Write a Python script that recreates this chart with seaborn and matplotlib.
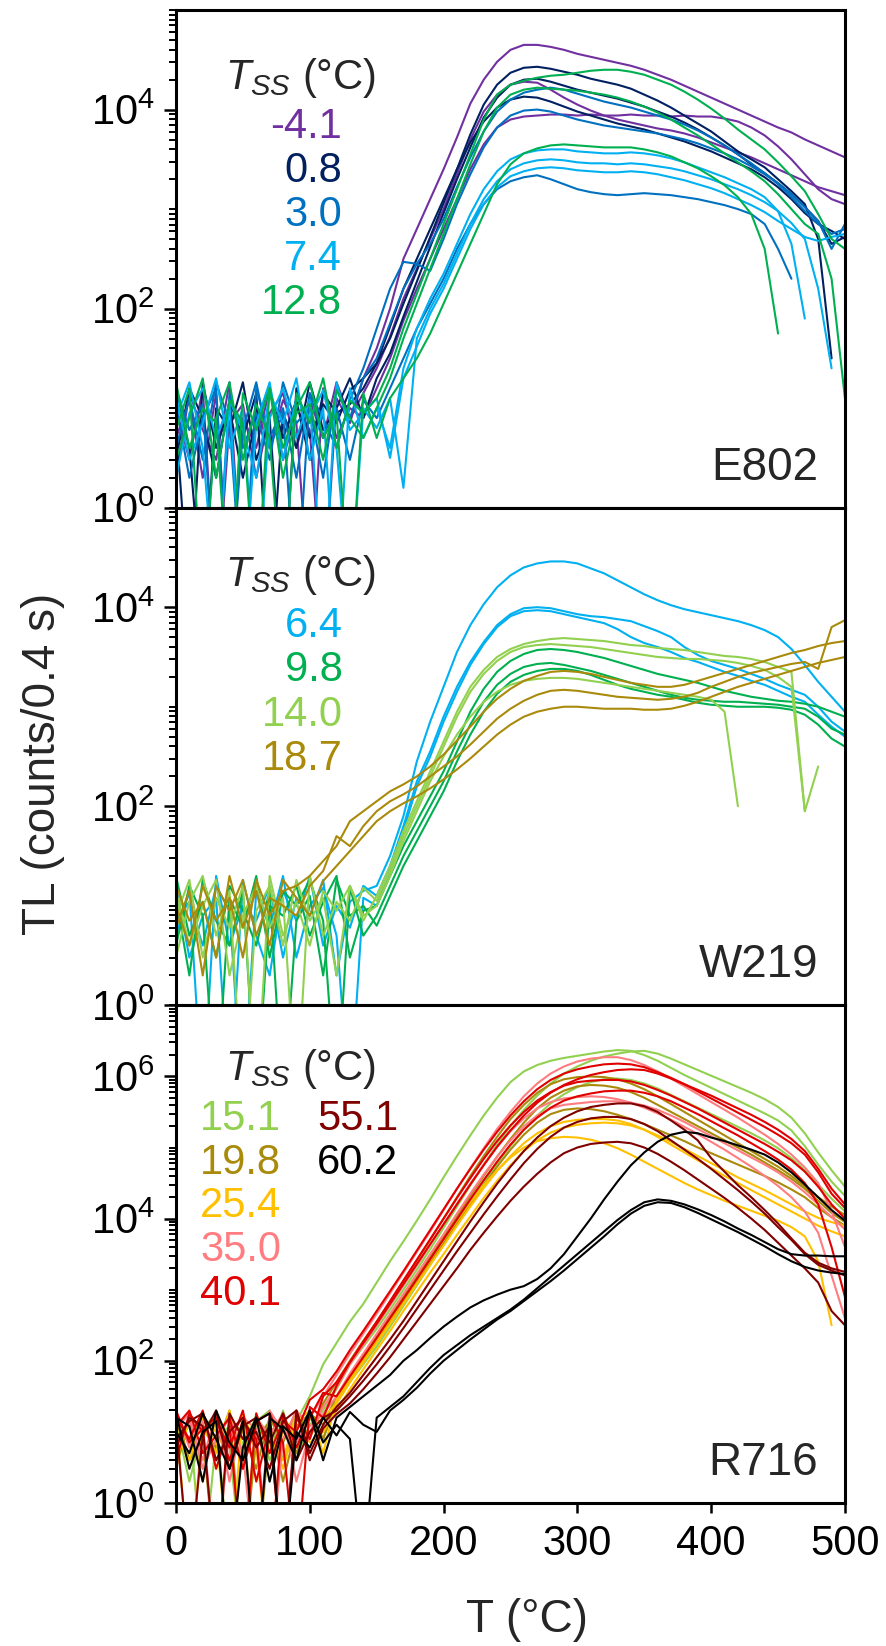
import numpy as np
import pandas as pd
import matplotlib
matplotlib.use("Agg")
import matplotlib.pyplot as plt
import seaborn as sns
from matplotlib.ticker import FixedLocator, LogLocator, NullFormatter

# temperature grid of the glow curves (deg C)
temps = list(range(0, 501, 10))
N = None   # end of the recorded curve

# ---------------- E802 : log10(TL) per run, grouped by T_SS ----------------
e802_labels = ["-4.1", "0.8", "3.0", "7.4", "12.8"]
e802_colors = ["#7030A0", "#002060", "#0070C0", "#00B0F0", "#00B050"]

e802_m41 = [
    [0.7, 1.08, 0.3, 1.15, -1, 0.9, 0.6, 1.2, 0.48, 1.0,
     0.78, -1, 1.1, 0.85, 1.3, 1.6, 2.0, 2.5, 2.8, 3.1,
     3.4, 3.72, 4.06, 4.3, 4.48, 4.6, 4.65, 4.65, 4.63, 4.6,
     4.56, 4.53, 4.5, 4.47, 4.44, 4.4, 4.35, 4.3, 4.24, 4.18,
     4.12, 4.06, 4.0, 3.94, 3.88, 3.82, 3.77, 3.7, 3.64, 3.58, 3.52],
    [1.0, 0.48, 1.2, -1, 0.85, 1.04, 0.3, 0.95, 1.15, 0.6,
     1.08, 0.7, 1.26, 0.9, 1.15, 1.4, 1.72, 2.1, 2.4, 2.7,
     3.0, 3.35, 3.7, 3.98, 4.15, 4.25, 4.28, 4.27, 4.2, 4.12,
     4.05, 3.99, 3.94, 3.9, 3.87, 3.84, 3.81, 3.79, 3.76, 3.72,
     3.67, 3.62, 3.57, 3.52, 3.46, 3.4, 3.34, 3.28, 3.22, 3.18, 3.14],
    [0.3, 1.15, 0.78, 0.48, 1.26, -1, 1.0, 0.6, 1.08, 0.85,
     -1, 1.2, 0.7, 1.0, 0.9, 1.2, 1.5, 1.88, 2.2, 2.5,
     2.8, 3.1, 3.4, 3.65, 3.82, 3.9, 3.93, 3.94, 3.95, 3.95,
     3.94, 3.95, 3.94, 3.94, 3.95, 3.94, 3.94, 3.93, 3.94, 3.93,
     3.93, 3.91, 3.88, 3.82, 3.74, 3.63, 3.5, 3.35, 3.2, 3.1, 3.05],
]
e802_08 = [
    [1.15, 0.6, -1, 1.0, 0.78, 1.26, 0.48, 0.9, -1, 1.2,
     0.7, 1.04, 0.85, 1.18, 1.3, 1.45, 1.7, 2.05, 2.38, 2.72,
     3.06, 3.4, 3.75, 4.05, 4.25, 4.37, 4.42, 4.43, 4.41, 4.38,
     4.35, 4.31, 4.28, 4.25, 4.21, 4.15, 4.09, 4.02, 3.94, 3.86,
     3.78, 3.68, 3.58, 3.5, 3.42, 3.3, 3.18, 3.05, 2.7, 1.5, N],
    [0.48, 1.2, 0.9, 0.3, 1.08, 0.7, 1.15, -1, 0.95, 0.6,
     1.26, 0.78, 1.0, 1.3, 0.9, 1.3, 1.55, 1.92, 2.27, 2.62,
     2.96, 3.3, 3.62, 3.92, 4.12, 4.25, 4.3, 4.31, 4.28, 4.24,
     4.2, 4.17, 4.14, 4.11, 4.07, 4.03, 3.98, 3.93, 3.87, 3.8,
     3.72, 3.64, 3.55, 3.45, 3.36, 3.26, 3.15, 3.02, 2.88, 2.65, 2.72],
    [0.85, -1, 1.26, 0.6, 1.0, 0.3, 0.9, 1.18, 0.7, 1.08,
     0.48, 1.15, 0.95, 1.04, 1.2, 1.45, 1.82, 2.2, 2.5, 2.8,
     3.1, 3.4, 3.67, 3.88, 4.02, 4.1, 4.13, 4.12, 4.08, 4.03,
     3.98, 3.94, 3.9, 3.86, 3.83, 3.8, 3.76, 3.72, 3.68, 3.63,
     3.58, 3.52, 3.46, 3.4, 3.32, 3.22, 3.1, 2.96, 2.85, 2.78, 2.7],
]
e802_30 = [
    [1.2, 0.78, 1.04, -1, 1.15, 0.6, 0.95, 0.48, 1.26, 0.85,
     1.0, 0.3, 1.2, 0.9, 1.3, 1.5, 1.85, 2.2, 2.45, 2.65,
     2.9, 3.22, 3.52, 3.78, 3.98, 4.1, 4.17, 4.2, 4.22, 4.2,
     4.16, 4.12, 4.08, 4.05, 4.02, 3.98, 3.94, 3.9, 3.85, 3.79,
     3.72, 3.64, 3.55, 3.46, 3.36, 3.25, 3.12, 2.98, 2.85, 2.75, 2.8],
    [0.6, 1.1, 0.48, 1.26, 0.85, -1, 1.2, 0.7, 1.0, 0.3,
     1.15, 0.9, 0.6, 1.08, 1.4, 1.8, 2.2, 2.47, 2.45, 2.38,
     2.7, 3.05, 3.35, 3.62, 3.82, 3.94, 3.99, 4.0, 3.98, 3.94,
     3.9, 3.87, 3.84, 3.82, 3.8, 3.78, 3.76, 3.73, 3.7, 3.66,
     3.61, 3.56, 3.5, 3.43, 3.35, 3.26, 3.15, 3.02, 2.88, 2.6, 2.85],
    [1.04, 0.3, 0.9, 1.2, -1, 0.78, 1.26, 0.6, 0.95, -1,
     1.15, 0.7, 1.0, 0.48, 1.08, 0.9, 1.2, 1.5, 1.8, 2.05,
     2.3, 2.6, 2.85, 3.05, 3.2, 3.28, 3.32, 3.34, 3.3, 3.25,
     3.2, 3.17, 3.15, 3.14, 3.15, 3.16, 3.15, 3.14, 3.12, 3.1,
     3.07, 3.04, 3.0, 2.95, 2.85, 2.6, 2.3, N, N, N, N],
]
e802_74 = [
    [0.9, 1.26, 0.6, -1, 1.08, 0.78, 0.3, 1.15, 0.85, 1.3,
     0.48, 1.0, -1, 1.2, 0.7, 1.0, 0.6, 1.4, 1.8, 2.1,
     2.35, 2.65, 2.95, 3.2, 3.38, 3.5, 3.56, 3.59, 3.6, 3.6,
     3.58, 3.57, 3.56, 3.56, 3.57, 3.56, 3.54, 3.51, 3.47, 3.42,
     3.37, 3.32, 3.26, 3.2, 3.12, 2.98, 2.65, 1.9, N, N, N],
    [0.3, 0.95, 1.2, 0.7, 1.04, -1, 0.85, 1.26, 0.48, 1.1,
     0.9, 1.18, 0.6, -1, 1.0, 0.8, 1.1, 0.2, 1.7, 2.0,
     2.25, 2.55, 2.85, 3.1, 3.28, 3.4, 3.46, 3.49, 3.5, 3.49,
     3.47, 3.46, 3.46, 3.45, 3.46, 3.45, 3.43, 3.41, 3.38, 3.34,
     3.3, 3.25, 3.2, 3.14, 3.07, 2.98, 2.86, 2.7, 2.2, 1.4, N],
    [1.15, 0.48, 0.85, 1.3, 0.6, 1.0, -1, 0.9, 1.2, 0.7,
     1.08, -1, 1.26, 0.78, 0.95, 1.1, 0.5, 1.3, 1.62, 1.95,
     2.2, 2.5, 2.8, 3.05, 3.22, 3.33, 3.38, 3.41, 3.42, 3.41,
     3.39, 3.38, 3.37, 3.37, 3.38, 3.37, 3.35, 3.32, 3.29, 3.25,
     3.21, 3.16, 3.1, 3.04, 2.97, 2.88, 2.8, 2.72, 2.68, 2.72, 2.75],
]
e802_128 = [
    [0.78, 1.2, -1, 0.9, 1.26, 0.48, 1.04, 0.7, -1, 1.15,
     0.85, 1.3, 0.6, 1.08, 0.95, 1.1, 1.4, 1.8, 2.15, 2.5,
     2.85, 3.2, 3.55, 3.9, 4.15, 4.25, 4.29, 4.32, 4.34, 4.35,
     4.37, 4.39, 4.4, 4.4, 4.38, 4.35, 4.3, 4.25, 4.18, 4.1,
     4.01, 3.91, 3.8, 3.7, 3.6, 3.47, 3.33, 3.18, 2.95, 2.7, 2.6],
    [1.26, 0.6, 1.0, 0.85, -1, 1.15, 0.78, 1.2, 0.3, 0.95,
     1.04, 0.48, 1.18, 0.9, 0.7, 1.0, 1.3, 1.7, 2.05, 2.4,
     2.75, 3.1, 3.45, 3.78, 4.02, 4.15, 4.2, 4.22, 4.21, 4.2,
     4.19, 4.17, 4.15, 4.12, 4.08, 4.03, 3.97, 3.9, 3.82, 3.74,
     3.65, 3.56, 3.47, 3.38, 3.28, 3.15, 3.0, 2.85, 2.75, 2.3, 1.1],
    [0.48, 0.9, 1.3, 0.3, 1.08, 0.85, -1, 1.2, 0.6, 1.0,
     1.26, 0.7, 0.95, -1, 1.15, 0.7, 1.1, 1.3, 1.5, 1.75,
     2.05, 2.35, 2.65, 2.95, 3.25, 3.45, 3.56, 3.61, 3.64, 3.65,
     3.64, 3.63, 3.62, 3.62, 3.62, 3.6, 3.57, 3.53, 3.47, 3.41,
     3.33, 3.24, 3.12, 2.95, 2.6, 1.75, N, N, N, N, N],
]

# ---------------- W219 ----------------
w219_labels = ["6.4", "9.8", "14.0", "18.7"]
w219_colors = ["#00B0F0", "#00B050", "#92D050", "#A98A0B"]

w219_64 = [
    [0.7, 1.15, -1, 1.3, 0.6, 1.0, 0.85, 1.2, 0.48, 1.08,
     0.9, 1.26, 0.3, 1.04, 1.15, 1.2, 1.5, 1.9, 2.45, 2.85,
     3.2, 3.55, 3.82, 4.03, 4.2, 4.32, 4.4, 4.44, 4.46, 4.46,
     4.44, 4.39, 4.34, 4.27, 4.2, 4.13, 4.07, 4.02, 3.98, 3.95,
     3.92, 3.89, 3.86, 3.82, 3.77, 3.7, 3.58, 3.42, 3.25, 3.1, 2.95],
    [1.2, 0.48, 0.9, 1.08, -1, 1.26, 0.7, 0.3, 1.15, 0.85,
     1.3, 0.6, 1.0, 0.78, 1.2, 1.1, 1.4, 1.8, 2.25, 2.55,
     2.9, 3.2, 3.45, 3.65, 3.82, 3.93, 3.99, 4.0, 3.99, 3.96,
     3.93, 3.91, 3.9, 3.88, 3.86, 3.81, 3.76, 3.7, 3.6, 3.52,
     3.46, 3.42, 3.38, 3.33, 3.28, 3.22, 3.17, 3.12, 3.0, 2.85, 2.75],
    [0.85, 1.04, 0.6, 1.2, 0.95, -1, 1.15, 0.78, 1.3, 0.48,
     1.0, 1.18, 0.7, -1, 1.08, 1.0, 1.35, 1.75, 2.2, 2.5,
     2.85, 3.15, 3.42, 3.63, 3.8, 3.91, 3.96, 3.97, 3.96, 3.93,
     3.9, 3.87, 3.84, 3.78, 3.7, 3.64, 3.6, 3.55, 3.49, 3.45,
     3.4, 3.35, 3.31, 3.26, 3.22, 3.16, 3.1, 3.05, 2.92, 2.8, 2.7],
]
w219_98 = [
    [1.08, 0.3, 1.26, 0.85, 0.6, 1.15, -1, 1.0, 0.9, 1.2,
     0.7, 1.04, 1.3, 0.48, 0.95, 1.0, 1.3, 1.6, 1.85, 2.1,
     2.35, 2.65, 2.95, 3.18, 3.35, 3.46, 3.53, 3.57, 3.58, 3.57,
     3.55, 3.52, 3.49, 3.45, 3.41, 3.37, 3.33, 3.3, 3.27, 3.24,
     3.2, 3.16, 3.13, 3.1, 3.08, 3.06, 3.05, 3.03, 3.0, 2.95, 2.9],
    [0.6, 1.2, 0.9, -1, 1.08, 0.78, 1.3, 0.48, 1.15, 1.0,
     1.26, 0.85, -1, 1.18, 0.7, 0.9, 1.2, 1.5, 1.75, 2.0,
     2.25, 2.55, 2.82, 3.05, 3.22, 3.33, 3.4, 3.43, 3.44, 3.42,
     3.39, 3.36, 3.32, 3.28, 3.24, 3.2, 3.16, 3.12, 3.09, 3.07,
     3.06, 3.05, 3.05, 3.04, 3.03, 3.02, 3.0, 2.98, 2.9, 2.78, 2.72],
    [1.3, 0.7, 1.04, 0.48, 1.2, 0.95, 0.6, 1.15, -1, 0.85,
     1.1, 0.3, 1.26, 0.9, 1.0, 0.8, 1.1, 1.4, 1.65, 1.9,
     2.15, 2.45, 2.72, 2.95, 3.13, 3.25, 3.32, 3.36, 3.38, 3.38,
     3.36, 3.32, 3.27, 3.22, 3.18, 3.15, 3.12, 3.1, 3.07, 3.04,
     3.02, 3.01, 3.0, 3.0, 3.0, 2.99, 2.97, 2.92, 2.82, 2.68, 2.6],
]
w219_140 = [
    [0.9, 1.26, 0.48, 1.08, 0.78, 1.2, -1, 1.3, 0.7, 1.04,
     0.6, 1.15, 0.95, 1.2, 0.85, 1.1, 1.4, 1.75, 2.05, 2.35,
     2.65, 2.95, 3.2, 3.37, 3.5, 3.58, 3.63, 3.66, 3.68, 3.69,
     3.68, 3.67, 3.66, 3.64, 3.62, 3.61, 3.59, 3.58, 3.57, 3.55,
     3.53, 3.51, 3.5, 3.48, 3.45, 3.4, 3.35, 1.95, N, N, N],
    [1.15, 0.6, 1.0, 1.26, 0.3, 0.9, 1.2, 0.78, 1.08, -1,
     1.3, 0.7, 1.04, 0.85, 1.18, 1.05, 1.35, 1.7, 2.0, 2.3,
     2.6, 2.9, 3.15, 3.33, 3.46, 3.55, 3.6, 3.62, 3.63, 3.62,
     3.61, 3.6, 3.58, 3.56, 3.54, 3.52, 3.5, 3.49, 3.48, 3.48,
     3.47, 3.46, 3.44, 3.41, 3.37, 3.3, 3.2, 1.95, 2.4, N, N],
    [0.48, 1.04, 1.3, 0.7, 1.15, -1, 0.95, 1.2, 0.6, 1.26,
     0.85, 1.08, 0.3, 1.2, 0.9, 1.0, 1.3, 1.65, 1.95, 2.25,
     2.5, 2.72, 2.9, 3.05, 3.15, 3.22, 3.26, 3.28, 3.29, 3.29,
     3.28, 3.26, 3.24, 3.22, 3.2, 3.18, 3.16, 3.14, 3.12, 3.1,
     3.07, 2.95, 2.0, N, N, N, N, N, N, N, N],
]
w219_187 = [
    [1.0, 0.6, 1.2, 0.85, 1.08, 0.48, 1.26, 0.9, 1.15, 1.2,
     1.3, 1.45, 1.6, 1.85, 1.95, 2.05, 2.15, 2.22, 2.3, 2.4,
     2.52, 2.66, 2.8, 2.95, 3.08, 3.18, 3.26, 3.31, 3.35, 3.36,
     3.35, 3.33, 3.3, 3.27, 3.24, 3.22, 3.2, 3.2, 3.22, 3.26,
     3.3, 3.34, 3.38, 3.42, 3.46, 3.5, 3.54, 3.57, 3.61, 3.64, 3.66],
    [0.78, 1.15, 0.3, 1.2, 0.95, 1.26, 0.7, 1.08, 1.0, 0.9,
     1.2, 1.35, 1.7, 1.6, 1.8, 1.95, 2.05, 2.12, 2.2, 2.3,
     2.4, 2.5, 2.62, 2.75, 2.88, 2.98, 3.06, 3.12, 3.16, 3.17,
     3.16, 3.14, 3.12, 3.1, 3.09, 3.08, 3.07, 3.08, 3.1, 3.14,
     3.2, 3.25, 3.3, 3.34, 3.37, 3.4, 3.43, 3.45, 3.38, 3.8, 3.87],
    [1.2, 0.85, 1.04, 0.48, 1.3, 0.78, 1.15, 0.6, 1.26, 1.08,
     0.9, 1.25, 1.4, 1.55, 1.7, 1.85, 1.95, 2.03, 2.1, 2.18,
     2.27, 2.37, 2.48, 2.6, 2.72, 2.82, 2.9, 2.95, 2.98, 3.0,
     3.0, 2.99, 2.98, 2.98, 2.98, 2.97, 2.97, 2.98, 3.01, 3.05,
     3.1, 3.15, 3.2, 3.24, 3.28, 3.32, 3.36, 3.4, 3.44, 3.47, 3.5],
]

# ---------------- R716 ----------------
r716_labels = ["15.1", "19.8", "25.4", "35.0", "40.1", "55.1", "60.2"]
r716_colors = ["#92D050", "#A98A0B", "#FFC000", "#FF7C80", "#E00000",
               "#800000", "#000000"]

r716_151 = [
    [0.7, 1.2, -1, 0.9, 1.08, 0.48, 1.26, 0.6, 1.0, 1.15,
     1.5, 1.95, 2.25, 2.55, 2.8, 3.1, 3.4, 3.68, 3.97, 4.27,
     4.58, 4.88, 5.17, 5.45, 5.7, 5.92, 6.07, 6.16, 6.22, 6.26,
     6.29, 6.32, 6.35, 6.37, 6.36, 6.3, 6.22, 6.12, 6.02, 5.93,
     5.84, 5.75, 5.66, 5.57, 5.48, 5.38, 5.24, 5.02, 4.76, 4.52, 4.32],
    [1.15, 0.3, 1.04, 1.26, -1, 0.85, 1.2, 0.7, 1.3, 0.6,
     1.1, 1.3, 1.6, 1.95, 2.2, 2.45, 2.72, 3.0, 3.28, 3.57,
     3.87, 4.17, 4.47, 4.76, 5.04, 5.3, 5.53, 5.73, 5.9, 6.04,
     6.14, 6.22, 6.28, 6.32, 6.35, 6.36, 6.32, 6.25, 6.17, 6.09,
     6.01, 5.93, 5.85, 5.77, 5.68, 5.57, 5.42, 5.2, 4.93, 4.68, 4.45],
    [0.9, 1.08, 0.48, 1.2, 0.78, -1, 1.15, 1.3, 0.6, 1.04,
     1.2, 0.9, 1.4, 1.7, 1.95, 2.2, 2.48, 2.77, 3.06, 3.35,
     3.64, 3.93, 4.22, 4.5, 4.77, 5.02, 5.25, 5.45, 5.62, 5.75,
     5.85, 5.92, 5.96, 5.97, 5.95, 5.9, 5.83, 5.74, 5.65, 5.56,
     5.47, 5.38, 5.29, 5.2, 5.1, 4.99, 4.85, 4.68, 4.48, 4.28, 4.1],
]
r716_198 = [
    [1.26, 0.6, 0.95, -1, 1.15, 1.0, 0.48, 1.2, 0.85, 1.3,
     0.9, 1.4, 1.7, 2.0, 2.28, 2.55, 2.83, 3.12, 3.41, 3.7,
     4.0, 4.3, 4.6, 4.88, 5.15, 5.4, 5.6, 5.77, 5.89, 5.96,
     5.99, 6.0, 5.99, 5.96, 5.9, 5.82, 5.72, 5.61, 5.5, 5.39,
     5.28, 5.17, 5.06, 4.95, 4.84, 4.73, 4.6, 4.45, 4.3, 4.17, 4.05],
    [0.48, 1.2, 1.04, 0.78, 1.3, -1, 0.9, 1.15, 0.3, 1.08,
     1.26, 1.1, 1.5, 1.8, 2.08, 2.35, 2.62, 2.9, 3.18, 3.46,
     3.74, 4.03, 4.32, 4.6, 4.87, 5.12, 5.35, 5.55, 5.7, 5.8,
     5.86, 5.88, 5.87, 5.84, 5.78, 5.7, 5.6, 5.5, 5.4, 5.3,
     5.2, 5.1, 5.0, 4.9, 4.79, 4.68, 4.56, 4.42, 4.25, 4.08, 3.95],
    [1.08, 0.85, 1.26, 0.6, 0.95, 1.2, -1, 1.0, 1.15, 0.7,
     1.3, 0.9, 1.45, 1.72, 2.0, 2.27, 2.55, 2.83, 3.1, 3.38,
     3.65, 3.93, 4.2, 4.47, 4.73, 4.97, 5.18, 5.35, 5.47, 5.53,
     5.55, 5.54, 5.51, 5.46, 5.4, 5.33, 5.25, 5.17, 5.09, 5.0,
     4.92, 4.84, 4.76, 4.68, 4.6, 4.51, 4.41, 4.3, 4.15, 4.02, 3.9],
]
r716_254 = [
    [0.6, 1.15, 0.3, 1.26, 0.9, 1.04, 0.78, -1, 1.2, 0.95,
     1.0, 1.2, 1.4, 1.7, 1.98, 2.25, 2.52, 2.8, 3.08, 3.35,
     3.62, 3.9, 4.17, 4.43, 4.67, 4.88, 5.06, 5.2, 5.3, 5.36,
     5.39, 5.4, 5.4, 5.38, 5.33, 5.25, 5.15, 5.04, 4.93, 4.82,
     4.71, 4.6, 4.5, 4.4, 4.3, 4.2, 4.1, 4.0, 3.9, 3.82, 3.75],
    [1.2, -1, 1.08, 0.7, 1.3, 0.48, 1.15, 0.9, 0.6, 1.26,
     0.85, 1.0, 1.3, 1.6, 1.88, 2.15, 2.42, 2.7, 2.97, 3.24,
     3.5, 3.77, 4.03, 4.29, 4.53, 4.75, 4.95, 5.1, 5.21, 5.28,
     5.32, 5.34, 5.35, 5.34, 5.31, 5.25, 5.17, 5.08, 4.98, 4.88,
     4.78, 4.68, 4.58, 4.49, 4.4, 4.3, 4.2, 4.1, 4.01, 3.95, 3.9],
    [0.95, 0.6, 1.2, 1.0, -1, 1.26, 0.78, 1.08, 0.48, 1.15,
     1.3, 0.7, 1.45, 1.75, 2.03, 2.3, 2.58, 2.86, 3.14, 3.42,
     3.7, 3.97, 4.23, 4.47, 4.68, 4.86, 5.0, 5.09, 5.13, 5.15,
     5.14, 5.11, 5.06, 4.99, 4.9, 4.8, 4.7, 4.6, 4.5, 4.41,
     4.33, 4.25, 4.18, 4.11, 4.04, 3.97, 3.88, 3.75, 3.4, 2.5, N],
]
r716_350 = [
    [1.04, 1.26, 0.48, 0.9, 1.2, 0.7, -1, 1.3, 1.0, 0.85,
     1.2, 1.5, 1.8, 2.1, 2.38, 2.66, 2.95, 3.24, 3.53, 3.82,
     4.12, 4.42, 4.71, 4.99, 5.26, 5.5, 5.72, 5.9, 6.04, 6.14,
     6.21, 6.25, 6.27, 6.27, 6.23, 6.16, 6.07, 5.97, 5.86, 5.75,
     5.64, 5.53, 5.42, 5.3, 5.18, 5.05, 4.9, 4.72, 4.5, 4.1, 3.6],
    [1.3, 0.78, 1.15, -1, 1.08, 0.6, 1.2, 0.95, 1.26, 0.3,
     1.0, 1.35, 1.62, 1.95, 2.22, 2.5, 2.78, 3.06, 3.34, 3.63,
     3.92, 4.21, 4.49, 4.76, 5.01, 5.23, 5.41, 5.55, 5.64, 5.69,
     5.71, 5.72, 5.71, 5.68, 5.63, 5.56, 5.48, 5.39, 5.29, 5.19,
     5.08, 4.97, 4.85, 4.73, 4.6, 4.46, 4.3, 4.1, 3.8, 3.2, 2.6],
    [0.85, 1.15, 0.6, 1.26, 0.3, 1.2, 1.04, -1, 0.9, 1.3,
     1.08, 1.25, 1.5, 1.82, 2.1, 2.38, 2.66, 2.94, 3.22, 3.5,
     3.78, 4.07, 4.35, 4.62, 4.87, 5.1, 5.3, 5.45, 5.55, 5.6,
     5.62, 5.64, 5.65, 5.65, 5.63, 5.59, 5.53, 5.45, 5.36, 5.26,
     5.16, 5.06, 4.96, 4.86, 4.76, 4.65, 4.52, 4.37, 4.2, 4.02, 3.85],
]
r716_401 = [
    [1.2, 0.9, 1.3, 0.48, 1.08, -1, 1.26, 0.7, 1.15, 1.0,
     1.45, 1.6, 1.85, 2.15, 2.42, 2.7, 2.98, 3.26, 3.55, 3.84,
     4.13, 4.42, 4.7, 4.97, 5.22, 5.45, 5.65, 5.82, 5.95, 6.04,
     6.1, 6.14, 6.17, 6.18, 6.17, 6.13, 6.06, 5.98, 5.89, 5.79,
     5.69, 5.59, 5.49, 5.39, 5.29, 5.18, 5.06, 4.9, 4.65, 4.35, 4.15],
    [0.6, 1.26, 1.0, 1.15, 0.78, 1.3, 0.3, 1.08, -1, 1.2,
     0.9, 1.5, 1.7, 1.98, 2.25, 2.52, 2.8, 3.08, 3.36, 3.64,
     3.92, 4.2, 4.48, 4.75, 5.01, 5.24, 5.45, 5.63, 5.77, 5.88,
     5.96, 6.02, 6.06, 6.09, 6.1, 6.09, 6.04, 5.97, 5.89, 5.81,
     5.73, 5.64, 5.55, 5.46, 5.36, 5.25, 5.12, 4.95, 4.7, 4.42, 4.2],
    [1.08, 1.3, 0.7, 0.95, 1.2, 0.48, 1.15, 1.26, 0.85, -1,
     1.35, 1.2, 1.65, 1.98, 2.27, 2.55, 2.84, 3.13, 3.42, 3.71,
     4.0, 4.29, 4.57, 4.84, 5.09, 5.31, 5.5, 5.66, 5.78, 5.87,
     5.92, 5.94, 5.95, 5.95, 5.93, 5.88, 5.81, 5.73, 5.64, 5.55,
     5.45, 5.35, 5.25, 5.15, 5.05, 4.94, 4.82, 4.66, 4.45, 4.2, 4.0],
    [1.3, 0.85, 1.04, 1.2, 0.6, 1.15, 0.9, -1, 1.26, 0.78,
     1.2, 1.55, 1.5, 1.78, 2.05, 2.32, 2.6, 2.87, 3.15, 3.43,
     3.71, 3.99, 4.27, 4.54, 4.8, 5.04, 5.25, 5.42, 5.56, 5.66,
     5.72, 5.76, 5.79, 5.8, 5.8, 5.77, 5.72, 5.65, 5.56, 5.47,
     5.37, 5.27, 5.17, 5.06, 4.95, 4.83, 4.69, 4.5, 4.2, 3.6, 2.9],
]
r716_551 = [
    [0.9, 1.15, 1.26, 0.6, 1.0, 1.2, 0.78, 1.08, -1, 1.3,
     0.7, 1.1, 1.35, 1.55, 1.8, 2.05, 2.3, 2.56, 2.84, 3.12,
     3.4, 3.68, 3.96, 4.23, 4.49, 4.73, 4.95, 5.14, 5.3, 5.42,
     5.51, 5.57, 5.6, 5.62, 5.62, 5.58, 5.5, 5.38, 5.25, 5.1,
     4.85, 4.66, 4.47, 4.3, 4.12, 3.93, 3.72, 3.52, 3.38, 3.3, 3.25],
    [1.15, -1, 0.95, 1.3, 0.48, 1.08, 1.2, 0.85, 1.26, 0.6,
     1.0, 1.2, 1.3, 1.5, 1.72, 1.95, 2.2, 2.46, 2.73, 3.0,
     3.27, 3.54, 3.8, 4.06, 4.31, 4.55, 4.78, 4.98, 5.15, 5.28,
     5.36, 5.41, 5.43, 5.43, 5.4, 5.33, 5.23, 5.1, 4.97, 4.84,
     4.7, 4.55, 4.4, 4.24, 4.07, 3.88, 3.7, 3.5, 3.35, 3.27, 3.2],
    [0.78, 1.2, 1.08, -1, 1.26, 0.9, 1.0, 0.48, 1.15, 1.3,
     0.6, 1.05, 1.25, 1.4, 1.6, 1.82, 2.05, 2.3, 2.55, 2.8,
     3.05, 3.3, 3.56, 3.8, 4.03, 4.25, 4.45, 4.63, 4.79, 4.92,
     5.0, 5.05, 5.07, 5.08, 5.06, 5.0, 4.91, 4.8, 4.68, 4.55,
     4.42, 4.29, 4.15, 4.0, 3.84, 3.66, 3.48, 3.3, 3.1, 2.7, 2.5],
]
r716_602 = [
    [1.26, 0.48, 1.0, 1.15, -1, 0.78, 1.2, 0.3, 1.08, 0.9,
     1.3, 0.6, 1.2, 1.35, 1.5, 1.65, 1.8, 2.0, 2.15, 2.32,
     2.48, 2.62, 2.75, 2.85, 2.93, 3.0, 3.05, 3.15, 3.3, 3.5,
     3.75, 4.0, 4.27, 4.52, 4.75, 4.93, 5.08, 5.18, 5.22, 5.2,
     5.14, 5.09, 5.03, 4.97, 4.9, 4.79, 4.65, 4.48, 4.3, 4.12, 3.97],
    [1.0, 0.7, 1.26, 0.9, 0.48, 1.15, -1, 1.2, 1.04, 0.6,
     1.3, 0.85, 1.1, 0.9, -1, 1.2, 1.35, 1.5, 1.7, 1.9,
     2.08, 2.22, 2.36, 2.48, 2.6, 2.72, 2.86, 3.02, 3.18, 3.34,
     3.5, 3.66, 3.82, 3.98, 4.12, 4.23, 4.27, 4.25, 4.2, 4.13,
     4.05, 3.96, 3.86, 3.77, 3.67, 3.57, 3.5, 3.48, 3.48, 3.47, 3.47],
    [1.2, 1.08, 0.3, 1.3, 0.85, 0.6, 1.15, 1.26, -1, 1.0,
     0.78, 1.2, 0.95, 1.28, 1.1, 1.0, 1.3, 1.45, 1.62, 1.82,
     2.0, 2.15, 2.3, 2.44, 2.58, 2.7, 2.84, 2.98, 3.12, 3.27,
     3.43, 3.59, 3.75, 3.92, 4.07, 4.18, 4.23, 4.22, 4.16, 4.08,
     3.99, 3.9, 3.81, 3.71, 3.61, 3.5, 3.4, 3.32, 3.27, 3.24, 3.22],
]

e802_groups = [e802_m41, e802_08, e802_30, e802_74, e802_128]
w219_groups = [w219_64, w219_98, w219_140, w219_187]
r716_groups = [r716_151, r716_198, r716_254, r716_350, r716_401,
               r716_551, r716_602]


def panel_frame(groups, labels):
    rows = []
    for lab, runs in zip(labels, groups):
        for k, logs in enumerate(runs):
            assert len(logs) == len(temps), (lab, k, len(logs))
            for t, v in zip(temps, logs):
                if v is None:
                    continue
                rows.append((t, 10.0 ** v, f"{lab}_{k}", lab))
    return pd.DataFrame(rows, columns=["T", "TL", "run", "Tss"])


sns.set_theme(style="ticks")
plt.rcParams["font.family"] = ["Liberation Sans", "DejaVu Sans"]
plt.rcParams["mathtext.fontset"] = "custom"
plt.rcParams["mathtext.rm"] = "Liberation Sans"
plt.rcParams["mathtext.it"] = "Liberation Sans:italic"

fig, axes = plt.subplots(3, 1, sharex=True, figsize=(8.87, 16.46), dpi=100)
fig.subplots_adjust(left=0.1984, right=0.9526, top=0.9939, bottom=0.0869,
                    hspace=0)

panels = [
    (e802_groups, e802_labels, e802_colors, 1e5, [1, 1e2, 1e4], "E802"),
    (w219_groups, w219_labels, w219_colors, 1e5, [1, 1e2, 1e4], "W219"),
    (r716_groups, r716_labels, r716_colors, 1e7, [1, 1e2, 1e4, 1e6], "R716"),
]

FS = 30
for ax, (groups, labels, colors, ymax, majors, name) in zip(axes, panels):
    df = panel_frame(groups, labels)
    sns.lineplot(data=df, x="T", y="TL", hue="Tss", units="run",
                 palette=dict(zip(labels, colors)), estimator=None,
                 sort=False, legend=False, linewidth=1.5, ax=ax)
    ax.set_yscale("log")
    ax.set_ylim(1, ymax)
    ax.set_xlim(0, 500)
    ax.yaxis.set_major_locator(FixedLocator(majors))
    ax.yaxis.set_minor_locator(LogLocator(base=10, subs=np.arange(1, 10),
                                          numticks=60))
    ax.yaxis.set_minor_formatter(NullFormatter())
    ax.set_xlabel("")
    ax.set_ylabel("")
    for sp in ax.spines.values():
        sp.set_visible(True)
        sp.set_linewidth(2.2)
        sp.set_color("black")
    ax.tick_params(axis="y", which="major", direction="out", length=8.5,
                   width=1.8, labelsize=FS, pad=7, colors="black")
    ax.tick_params(axis="y", which="minor", direction="out", length=5,
                   width=1.4, colors="black")
    ax.text(0.96, 0.056, name, transform=ax.transAxes, ha="right",
            va="baseline", fontsize=33)

# legend-like labels
ax = axes[0]
ax.text(0.073, 0.864, r"$T_{SS}$ (°C)", transform=ax.transAxes,
        ha="left", va="center", fontsize=FS)
for i, (lab, col) in enumerate(zip(e802_labels, e802_colors)):
    ax.text(0.248, 0.764 - 0.088 * i, lab, color=col, transform=ax.transAxes,
            ha="right", va="center", fontsize=FS)

ax = axes[1]
ax.text(0.073, 0.865, r"$T_{SS}$ (°C)", transform=ax.transAxes,
        ha="left", va="center", fontsize=FS)
for i, (lab, col) in enumerate(zip(w219_labels, w219_colors)):
    ax.text(0.25, 0.762 - 0.089 * i, lab, color=col, transform=ax.transAxes,
            ha="right", va="center", fontsize=FS)

ax = axes[2]
ax.text(0.073, 0.873, r"$T_{SS}$ (°C)", transform=ax.transAxes,
        ha="left", va="center", fontsize=FS)
for i, (lab, col) in enumerate(zip(r716_labels, r716_colors)):
    col_x = 0.036 if i < 5 else 0.211
    row = i if i < 5 else i - 5
    ax.text(col_x, 0.772 - 0.088 * row, lab, color=col,
            transform=ax.transAxes, ha="left", va="center", fontsize=FS)

for ax in axes[:2]:
    ax.tick_params(axis="x", which="both", length=0)
axes[2].set_xticks(range(0, 501, 100))
axes[2].tick_params(axis="x", direction="out", length=7, width=1.8,
                    labelsize=FS, pad=8, colors="black")

fig.text(0.594, 0.016, "T (°C)", ha="center", va="center", fontsize=33)
fig.text(0.049, 0.536, "TL (counts/0.4 s)", ha="center", va="center",
         rotation=90, fontsize=33)

fig.savefig("out.png", dpi=100)
